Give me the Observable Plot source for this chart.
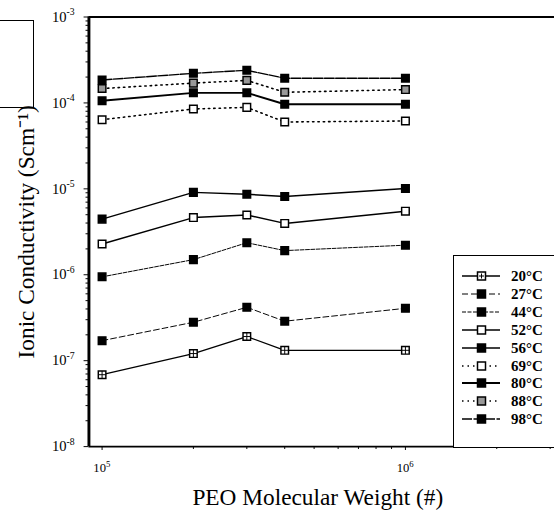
<!DOCTYPE html>
<html><head><meta charset="utf-8">
<script src="https://cdn.jsdelivr.net/npm/d3@7"></script>
<script src="https://cdn.jsdelivr.net/npm/@observablehq/plot@0.6"></script>
<style>
body{margin:0;background:#fff;}
#wrap{position:relative;width:554px;height:526px;overflow:hidden;background:#fff;font-family:"Liberation Serif",serif;}
#chart{position:absolute;left:0;top:0;}
#box{position:absolute;left:-10px;top:20px;width:42px;height:86px;border:1.5px solid #000;}
#legend{position:absolute;left:453px;top:255px;width:120px;height:191px;border:1.5px solid #000;background:#fff;}
.row{position:absolute;left:0;height:18px;width:120px;}
.row svg{position:absolute;left:6px;top:0;}
.row span{position:absolute;left:57px;top:0;font:bold 15px "Liberation Serif",serif;line-height:18px;color:#000;}
</style></head>
<body><div id="wrap"><div id="chart"></div><div id="box"></div><div id="legend"></div></div>
<script>
// ---- data ----
const molWeight = [1e5, 2e5, 3e5, 4e5, 1e6];
const seriesNames = ["20°C", "27°C", "44°C", "52°C", "56°C", "69°C", "80°C", "88°C", "98°C"];
const c20 = [6.87e-8, 1.21e-7, 1.91e-7, 1.32e-7, 1.32e-7];
const c27 = [1.71e-7, 2.80e-7, 4.18e-7, 2.88e-7, 4.07e-7];
const c44 = [9.46e-7, 1.50e-6, 2.36e-6, 1.91e-6, 2.21e-6];
const c52 = [2.28e-6, 4.63e-6, 4.96e-6, 3.96e-6, 5.50e-6];
const c56 = [4.44e-6, 9.10e-6, 8.65e-6, 8.14e-6, 1.01e-5];
const c69 = [6.38e-5, 8.50e-5, 8.88e-5, 6.00e-5, 6.16e-5];
const c80 = [1.06e-4, 1.31e-4, 1.31e-4, 9.66e-5, 9.66e-5];
const c88 = [1.47e-4, 1.70e-4, 1.83e-4, 1.33e-4, 1.43e-4];
const c98 = [1.85e-4, 2.21e-4, 2.40e-4, 1.94e-4, 1.94e-4];
const seriesValues = [c20, c27, c44, c52, c56, c69, c80, c88, c98];
const yMajorTicks = [1e-8, 1e-7, 1e-6, 1e-5, 1e-4, 1e-3];
const xMajorTicks = [1e5, 1e6];
const xLabel = "PEO Molecular Weight (#)";
const yLabel = "Ionic Conductivity (Scm\u207B\u00B9)";

// ---- styles ----
const styles = [
  {dash: null,    width: 1.4, fill: "#fff", plus: true},
  {dash: "6,3",   width: 1,   fill: "#000"},
  {dash: "4,1.5", width: 1,   fill: "#000"},
  {dash: null,    width: 1.5, fill: "#fff"},
  {dash: null,    width: 1.5, fill: "#000"},
  {dash: "1.5,4", width: 1.6, fill: "#fff"},
  {dash: null,    width: 2,   fill: "#000"},
  {dash: "1.5,4", width: 1.6, fill: "#999"},
  {dash: "10,1.5",width: 1.4, fill: "#000"}
];

const xDomain = [9.05e4, 3.1e6];
const yDomain = [1e-8, 1e-3];
const yMinorTicks = [];
for (let e = -8; e < -3; e++) for (let k = 2; k <= 9; k++) yMinorTicks.push(k * Math.pow(10, e));
const xMinorTicks = [];
for (let e = 5; e < 7; e++) for (let k = 2; k <= 9; k++) { const v = k * Math.pow(10, e); if (v < xDomain[1]) xMinorTicks.push(v); }

const expo = d => String(Math.round(Math.log10(d)));
const ff = "'Liberation Serif', serif";

const marks = [
  Plot.axisY(yMajorTicks, {tickSize: 5, tickFormat: () => "", label: null}),
  Plot.axisY(yMinorTicks, {tickSize: 3, tickFormat: () => "", label: null}),
  Plot.axisX(xMajorTicks, {tickSize: 4, tickFormat: () => "", label: null}),
  Plot.axisX(xMinorTicks, {tickSize: 3, tickFormat: () => "", label: null}),
  // y tick labels: "10" + superscript exponent
  Plot.text(yMajorTicks, {x: () => xDomain[0], y: d => d, text: () => "10", textAnchor: "end", lineAnchor: "middle", dx: -23, fontSize: 15, fontFamily: ff, fill: "#000"}),
  Plot.text(yMajorTicks, {x: () => xDomain[0], y: d => d, text: expo, textAnchor: "start", lineAnchor: "middle", dx: -23, dy: -5, fontSize: 10, fontFamily: ff, fill: "#000"}),
  // x tick labels
  Plot.text(xMajorTicks, {x: d => d, y: () => yDomain[0], text: () => "10", textAnchor: "end", lineAnchor: "middle", dx: 4, dy: 22, fontSize: 13, fontFamily: ff, fill: "#000"}),
  Plot.text(xMajorTicks, {x: d => d, y: () => yDomain[0], text: expo, textAnchor: "start", lineAnchor: "middle", dx: 4, dy: 18, fontSize: 9, fontFamily: ff, fill: "#000"}),
  Plot.ruleY([yDomain[1]], {strokeWidth: 2}),
  Plot.ruleY([yDomain[0]], {strokeWidth: 2}),
  Plot.ruleX([xDomain[0]], {strokeWidth: 3})
];

seriesValues.forEach((vals, i) => {
  const rows = vals.map((v, j) => ({mw: molWeight[j], v, s: seriesNames[i]}));
  const st = styles[i];
  marks.push(Plot.line(rows, {x: "mw", y: "v", stroke: "#000", strokeWidth: st.width, strokeDasharray: st.dash || undefined}));
  marks.push(Plot.dot(rows, {x: "mw", y: "v", symbol: "square", r: 4.4, fill: st.fill, stroke: "#000", strokeWidth: 1.5}));
  if (st.plus) marks.push(Plot.dot(rows, {x: "mw", y: "v", symbol: "plus", r: 2.6, stroke: "#000", strokeWidth: 1}));
});

marks.push(Plot.text([xLabel], {text: d => d, frameAnchor: "bottom", textAnchor: "middle", lineAnchor: "middle", dy: 52, dx: -4, fontSize: 24, fontFamily: ff, fill: "#000"}));
marks.push(Plot.text([yLabel], {text: d => d, frameAnchor: "left", textAnchor: "middle", lineAnchor: "middle", rotate: -90, dx: -64, fontSize: 24, fontFamily: ff, fill: "#000"}));

const chart = Plot.plot({
  width: 570, height: 526,
  marginLeft: 91, marginTop: 17, marginBottom: 67, marginRight: 0,
  x: {type: "log", domain: xDomain},
  y: {type: "log", domain: yDomain},
  style: {fontFamily: ff, fontSize: "12px", color: "#000", background: "transparent"},
  marks
});
document.getElementById("chart").appendChild(chart);

// ---- legend ----
const legend = document.getElementById("legend");
seriesNames.forEach((name, i) => {
  const st = styles[i];
  const row = document.createElement("div");
  row.className = "row";
  row.style.top = (11 + i * 17.9) + "px";
  const ns = "http://www.w3.org/2000/svg";
  const svg = document.createElementNS(ns, "svg");
  svg.setAttribute("width", 42); svg.setAttribute("height", 18);
  const ln = document.createElementNS(ns, "line");
  ln.setAttribute("x1", 2); ln.setAttribute("x2", 40); ln.setAttribute("y1", 9); ln.setAttribute("y2", 9);
  ln.setAttribute("stroke", "#000"); ln.setAttribute("stroke-width", st.width);
  if (st.dash) ln.setAttribute("stroke-dasharray", st.dash);
  svg.appendChild(ln);
  const sq = document.createElementNS(ns, "rect");
  sq.setAttribute("x", 17.5); sq.setAttribute("y", 5); sq.setAttribute("width", 8); sq.setAttribute("height", 8);
  sq.setAttribute("fill", st.fill); sq.setAttribute("stroke", "#000"); sq.setAttribute("stroke-width", 1.5);
  svg.appendChild(sq);
  if (st.plus) {
    const p = document.createElementNS(ns, "path");
    p.setAttribute("d", "M21.5,6.5V11.5M19,9H24");
    p.setAttribute("stroke", "#000"); p.setAttribute("stroke-width", 1);
    svg.appendChild(p);
  }
  row.appendChild(svg);
  const sp = document.createElement("span");
  sp.textContent = name;
  row.appendChild(sp);
  legend.appendChild(row);
});
</script></body></html>
